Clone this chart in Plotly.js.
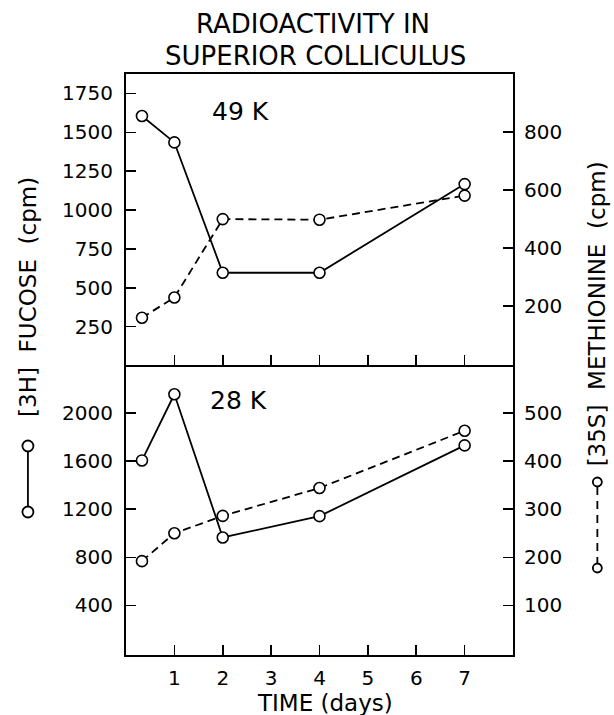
<!DOCTYPE html>
<html>
<head>
<meta charset="utf-8">
<script src="https://cdn.plot.ly/plotly-3.0.1.min.js"></script>
<style>html,body{margin:0;padding:0;background:#fff;}#chart{width:614px;height:715px;}</style>
</head>
<body>
<div id="chart"></div>
<script>
// Time points (days)
const days = [0.33, 1, 2, 4, 7];

// 49 K panel (top)
const fucose49 = [1605, 1435, 597, 597, 1167];      // [3H] fucose, cpm (left axis)
const methionine49 = [160, 230, 500, 498, 581];     // [35S] methionine, cpm (right axis)

// 28 K panel (bottom)
const fucose28 = [1605, 2155, 965, 1142, 1730];
const methionine28 = [192, 250, 286, 344, 463];

// Tick values
const xTicks = [1, 2, 3, 4, 5, 6, 7];
const topLeftTicks = [250, 500, 750, 1000, 1250, 1500, 1750];
const topRightTicks = [200, 400, 600, 800];
const botLeftTicks = [400, 800, 1200, 1600, 2000];
const botRightTicks = [100, 200, 300, 400, 500];

const FONT = 'DejaVu Sans, sans-serif';
const solid = {color: 'black', width: 1.8};
const dashed = {color: 'black', width: 1.8, dash: '8px,5px'};
const mk = {symbol: 'circle', size: 11, color: 'white', line: {color: 'black', width: 1.6}};

const traces = [
  {x: days, y: fucose49, xaxis: 'x2', yaxis: 'y3', mode: 'lines+markers', line: solid, marker: mk, name: '[3H] fucose 49K'},
  {x: days, y: methionine49, xaxis: 'x2', yaxis: 'y4', mode: 'lines+markers', line: dashed, marker: mk, name: '[35S] methionine 49K'},
  {x: days, y: fucose28, xaxis: 'x', yaxis: 'y', mode: 'lines+markers', line: solid, marker: mk, name: '[3H] fucose 28K'},
  {x: days, y: methionine28, xaxis: 'x', yaxis: 'y2', mode: 'lines+markers', line: dashed, marker: mk, name: '[35S] methionine 28K'}
];

const axBase = {
  showgrid: false, zeroline: false, showline: true, linecolor: 'black', linewidth: 2,
  ticks: 'inside', ticklen: 10, tickwidth: 1.6, tickcolor: 'black',
  tickfont: {family: FONT, size: 20, color: 'black'}, tickmode: 'array'
};

const L = 126, PW = 386.7, T = 74, PH = 581;
const px = x => (x - L) / PW;
const py = y => (T + PH - y) / PH;

const shapes = [
  // left legend key (solid)
  {type: 'line', xref: 'paper', yref: 'paper', x0: px(28), x1: px(28), y0: py(451), y1: py(507), line: {color: 'black', width: 1.8}},
  {type: 'circle', xref: 'paper', yref: 'paper', xsizemode: 'pixel', ysizemode: 'pixel', xanchor: px(28), yanchor: py(446), x0: -5.5, x1: 5.5, y0: -5.5, y1: 5.5, line: {color: 'black', width: 1.8}, fillcolor: 'white'},
  {type: 'circle', xref: 'paper', yref: 'paper', xsizemode: 'pixel', ysizemode: 'pixel', xanchor: px(28), yanchor: py(512), x0: -5.5, x1: 5.5, y0: -5.5, y1: 5.5, line: {color: 'black', width: 1.8}, fillcolor: 'white'},
  // right legend key (dashed)
  {type: 'line', xref: 'paper', yref: 'paper', x0: px(597), x1: px(597), y0: py(487), y1: py(563), line: {color: 'black', width: 1.8, dash: '8px,6px'}},
  {type: 'circle', xref: 'paper', yref: 'paper', xsizemode: 'pixel', ysizemode: 'pixel', xanchor: px(597), yanchor: py(482), x0: -4.5, x1: 4.5, y0: -4.5, y1: 4.5, line: {color: 'black', width: 1.8}, fillcolor: 'white'},
  {type: 'circle', xref: 'paper', yref: 'paper', xsizemode: 'pixel', ysizemode: 'pixel', xanchor: px(597), yanchor: py(568), x0: -4.5, x1: 4.5, y0: -4.5, y1: 4.5, line: {color: 'black', width: 1.8}, fillcolor: 'white'}
];

const annotations = [
  {text: 'SUPERIOR COLLICULUS', xref: 'paper', yref: 'paper', x: px(315), y: py(56), showarrow: false, font: {family: FONT, size: 26, color: 'black'}, xanchor: 'center', yanchor: 'middle'},
  {text: '[3H]  FUCOSE  (cpm)', xref: 'paper', yref: 'paper', x: px(28), y: py(297), textangle: -90, showarrow: false, font: {family: FONT, size: 23, color: 'black'}, xanchor: 'center', yanchor: 'middle'},
  {text: '[35S]  METHIONINE  (cpm)', xref: 'paper', yref: 'paper', x: px(597), y: py(314), textangle: -90, showarrow: false, font: {family: FONT, size: 23, color: 'black'}, xanchor: 'center', yanchor: 'middle'},
  {text: '49 K', xref: 'paper', yref: 'paper', x: px(240), y: py(111), showarrow: false, font: {family: FONT, size: 25, color: 'black'}, xanchor: 'center', yanchor: 'middle'},
  {text: '28 K', xref: 'paper', yref: 'paper', x: px(238), y: py(400), showarrow: false, font: {family: FONT, size: 25, color: 'black'}, xanchor: 'center', yanchor: 'middle'},
  {text: 'TIME (days)', xref: 'paper', yref: 'paper', x: px(325), y: py(703), showarrow: false, font: {family: FONT, size: 23, color: 'black'}, xanchor: 'center', yanchor: 'middle'}
];

const layout = {
  width: 614, height: 715,
  paper_bgcolor: 'white', plot_bgcolor: 'white',
  showlegend: false,
  margin: {l: L, r: 614 - L - PW, t: T, b: 715 - T - PH, pad: 0},
  title: {text: 'RADIOACTIVITY IN', font: {family: FONT, size: 26, color: 'black'}, xref: 'container', x: 313 / 614, xanchor: 'center', yref: 'container', y: 1 - 24 / 715, yanchor: 'middle'},
  xaxis: Object.assign({}, axBase, {domain: [0, 1], range: [0, 8], anchor: 'y', tickvals: xTicks, ticktext: xTicks.map(String), mirror: false,
    ticklabelstandoff: 4}),
  yaxis: Object.assign({}, axBase, {domain: [0, 0.4995], range: [-12, 2400], anchor: 'x', tickvals: botLeftTicks, ticktext: botLeftTicks.map(String), ticklabelstandoff: 7}),
  yaxis2: Object.assign({}, axBase, {domain: [0, 0.4995], range: [-3, 600], anchor: 'x', overlaying: 'y', side: 'right', tickvals: botRightTicks, ticktext: botRightTicks.map(String), ticklabelstandoff: 5}),
  xaxis2: Object.assign({}, axBase, {domain: [0, 1], range: [0, 8], anchor: 'y3', tickvals: xTicks, showticklabels: false, mirror: true}),
  yaxis3: Object.assign({}, axBase, {domain: [0.4995, 1], range: [5, 1875], anchor: 'x2', tickvals: topLeftTicks, ticktext: topLeftTicks.map(String), ticklabelstandoff: 7}),
  yaxis4: Object.assign({}, axBase, {domain: [0.4995, 1], range: [-2, 1000], anchor: 'x2', overlaying: 'y3', side: 'right', tickvals: topRightTicks, ticktext: topRightTicks.map(String), ticklabelstandoff: 5}),
  shapes: shapes,
  annotations: annotations
};

Plotly.newPlot('chart', traces, layout, {displayModeBar: false, staticPlot: true});
</script>
</body>
</html>
